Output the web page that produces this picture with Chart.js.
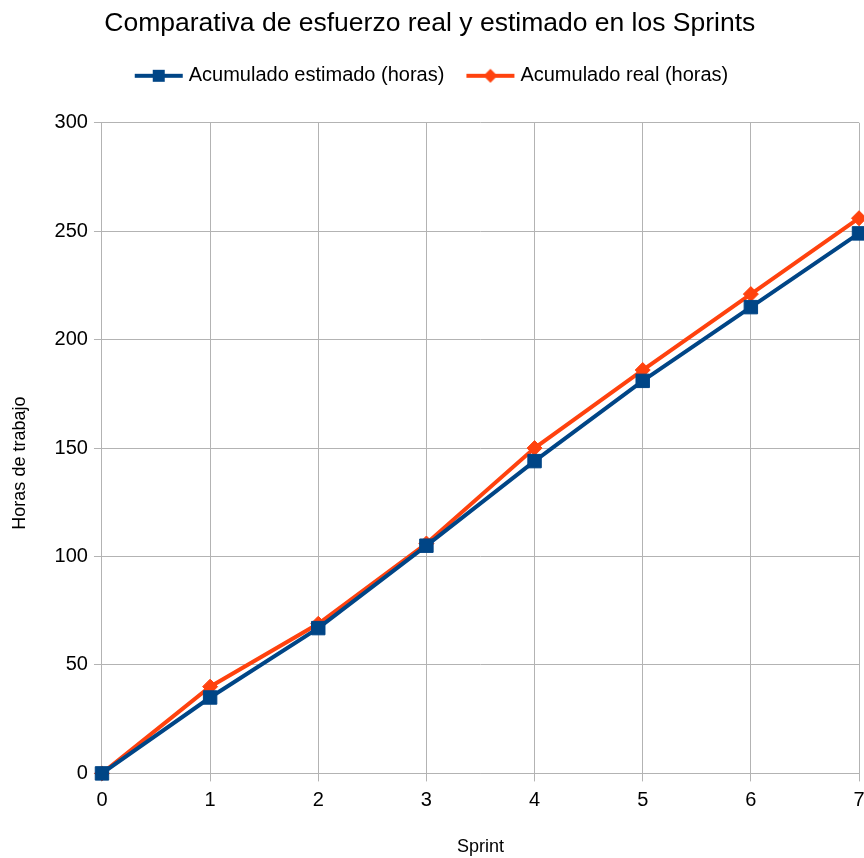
<!DOCTYPE html>
<html>
<head>
<meta charset="utf-8">
<script src="https://cdn.jsdelivr.net/npm/chart.js@4/dist/chart.umd.min.js"></script>
<style>
html,body{margin:0;padding:0;background:#fff;}
#wrap{width:864px;height:858px;position:relative;}
</style>
</head>
<body>
<div id="wrap"><canvas id="c" width="864" height="858"></canvas></div>
<script>
const sprints = [0, 1, 2, 3, 4, 5, 6, 7];
const estimado = [0, 35, 67, 105, 144, 181, 215, 249];
const real = [0, 40, 69, 106, 150, 186, 221, 256];
const yTicks = [0, 50, 100, 150, 200, 250, 300];

const estColor = '#004586';
const realColor = '#ff420e';
const gridColor = '#b3b3b3';
const FONT = '"Liberation Sans", Arial, sans-serif';

function legendIcon(color, style) {
  const cv = document.createElement('canvas');
  cv.width = 52; cv.height = 18;
  const g = cv.getContext('2d');
  g.strokeStyle = color; g.lineWidth = 4;
  g.beginPath(); g.moveTo(2, 9); g.lineTo(50, 9); g.stroke();
  g.fillStyle = color;
  if (style === 'rect') {
    g.fillRect(26 - 6, 9 - 6, 12, 12);
  } else {
    g.beginPath();
    g.moveTo(26, 2); g.lineTo(33, 9); g.lineTo(26, 16); g.lineTo(19, 9); g.closePath();
    g.fill();
  }
  return cv;
}
const icons = [legendIcon(estColor, 'rect'), legendIcon(realColor, 'diamond')];

const legendSpacer = {
  id: 'legendSpacer',
  beforeInit(chart) {
    const origFit = chart.legend.fit;
    chart.legend.fit = function () {
      origFit.call(this);
      this.height += 27;
    };
  }
};

new Chart(document.getElementById('c'), {
  type: 'line',
  data: {
    datasets: [
      {
        label: 'Acumulado estimado (horas)',
        data: sprints.map((s, i) => ({x: s, y: estimado[i]})),
        borderColor: estColor,
        backgroundColor: estColor,
        borderWidth: 4,
        pointStyle: 'rect',
        pointRadius: 9.5,
        pointBorderWidth: 1,
        pointHoverRadius: 9.5,
        tension: 0,
        clip: false
      },
      {
        label: 'Acumulado real (horas)',
        data: sprints.map((s, i) => ({x: s, y: real[i]})),
        borderColor: realColor,
        backgroundColor: realColor,
        borderWidth: 4,
        pointStyle: 'rectRot',
        pointRadius: 7.5,
        pointBorderWidth: 1,
        pointHoverRadius: 7.5,
        tension: 0,
        clip: false
      }
    ]
  },
  plugins: [legendSpacer],
  options: {
    responsive: false,
    animation: false,
    layout: {autoPadding: false, padding: {left: 3, right: 0, top: 6, bottom: 0}},
    plugins: {
      title: {
        display: true,
        text: 'Comparativa de esfuerzo real y estimado en los Sprints ',
        color: '#000',
        font: {family: FONT, size: 26.5, weight: 'normal'},
        padding: {top: 2, bottom: 0}
      },
      legend: {
        display: true,
        position: 'top',
        labels: {
          color: '#000',
          font: {family: FONT, size: 20},
          usePointStyle: true,
          pointStyleWidth: 40,
          padding: 26,
          generateLabels: (chart) => chart.data.datasets.map((ds, i) => ({
            text: ds.label,
            fillStyle: ds.borderColor,
            strokeStyle: ds.borderColor,
            lineWidth: 0,
            pointStyle: icons[i],
            hidden: false,
            datasetIndex: i,
            fontColor: '#000'
          }))
        }
      },
      tooltip: {enabled: false}
    },
    scales: {
      x: {
        type: 'linear',
        min: 0,
        max: 7,
        afterFit: (scale) => { scale.paddingRight = 5; },
        ticks: {
          stepSize: 1,
          color: '#000',
          font: {family: FONT, size: 20},
          padding: 7
        },
        grid: {color: gridColor, lineWidth: 1, tickLength: 8},
        border: {color: gridColor, width: 1},
        title: {
          display: true,
          text: 'Sprint',
          color: '#000',
          font: {family: FONT, size: 18},
          padding: {top: 17, bottom: 0}
        }
      },
      y: {
        type: 'linear',
        min: 0,
        max: 300,
        afterBuildTicks: (axis) => { axis.ticks = yTicks.map(v => ({value: v})); },
        ticks: {
          color: '#000',
          font: {family: FONT, size: 20},
          padding: 6
        },
        grid: {color: gridColor, lineWidth: 1, tickLength: 8},
        border: {color: gridColor, width: 1},
        title: {
          display: true,
          text: 'Horas de trabajo      ',
          color: '#000',
          font: {family: FONT, size: 18},
          padding: {top: 6, bottom: 18}
        }
      }
    }
  }
});
</script>
</body>
</html>
